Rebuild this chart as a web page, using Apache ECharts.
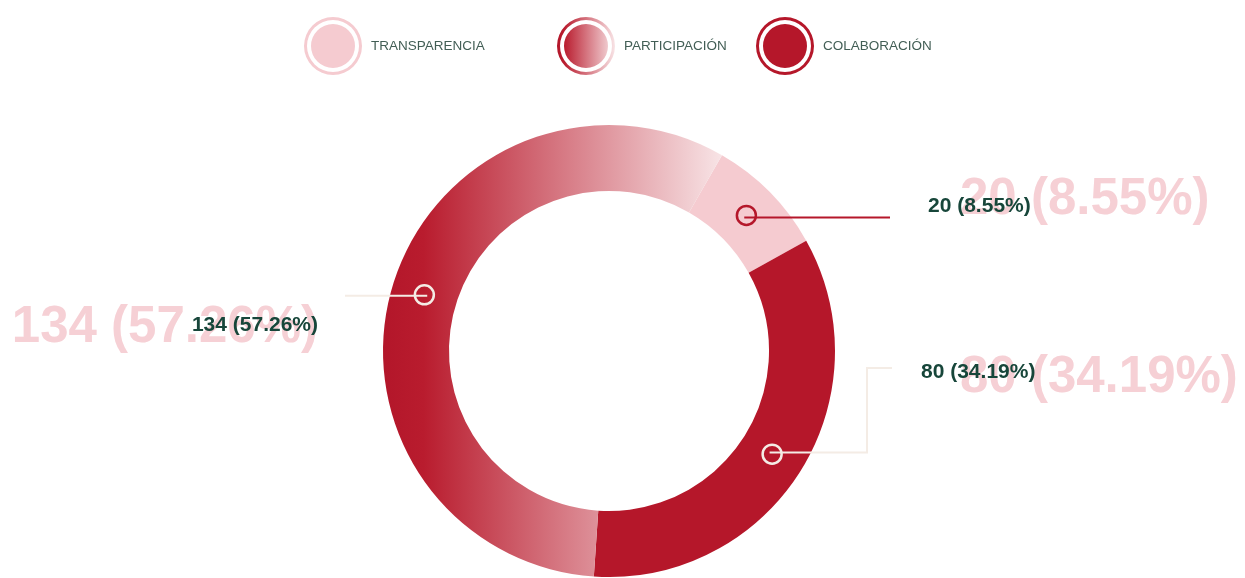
<!DOCTYPE html>
<html>
<head>
<meta charset="utf-8">
<script src="https://cdn.jsdelivr.net/npm/echarts@6/dist/echarts.min.js"></script>
<style>
  html, body { margin: 0; padding: 0; background: #fff; }
  #chart { width: 1245px; height: 578px; }
</style>
</head>
<body>
<div id="chart"></div>
<script>
// Data, in clockwise drawing order starting at the top right
const categories = ['TRANSPARENCIA', 'COLABORACIÓN', 'PARTICIPACIÓN'];
const values = [20, 80, 134];
const legendNames = ['TRANSPARENCIA', 'PARTICIPACIÓN', 'COLABORACIÓN'];

// Colours
const red = '#b5172a';
const pink = '#f5cbd0';
const cream = '#f4ece5';
const gradient = new echarts.graphic.LinearGradient(0, 0, 1, 0, [
  { offset: 0, color: '#b3162a' },
  { offset: 0.12, color: '#b91c2e' },
  { offset: 1, color: '#f8e4e6' }
]);
const sliceColors = [pink, red, gradient];
const lineColors = [red, cream, cream];
const markerStyle = ['red', 'light', 'light'];

// Text anchors for the labels: [x, y, align]
const smallTextAt = [[928, 206, 'left'], [921, 372, 'left'], [318, 325, 'right']];
const bigTextAt = [[960, 200, 'left'], [960, 378, 'left'], [318, 328, 'right']];

const center = [609, 351];
const font = '"Liberation Sans", Arial, sans-serif';

function pieData(extra) {
  return categories.map((name, i) => Object.assign({ name: name, value: values[i] }, extra ? extra(i) : {}));
}

// The ring icon used in the legend: outer ring plus inner disc
const ringIcon = 'path://M29,0A29,29,0,1,1,29,58A29,29,0,1,1,29,0Z' +
  'M29,3A26,26,0,1,0,29,55A26,26,0,1,0,29,3Z' +
  'M29,7A22,22,0,1,1,29,51A22,22,0,1,1,29,7Z';

function makeLegend(name, left) {
  const i = categories.indexOf(name);
  return {
    data: [{ name: name, icon: ringIcon, itemStyle: { color: sliceColors[i], borderWidth: 0 } }],
    left: left,
    top: 12,
    orient: 'horizontal',
    itemWidth: 66,
    itemHeight: 58,
    selectedMode: false,
    textStyle: { fontFamily: font, fontSize: 13.5, color: '#425e55' }
  };
}

const chart = echarts.init(document.getElementById('chart'));

const option = {
  backgroundColor: '#fff',
  animation: false,
  legend: [
    makeLegend(legendNames[0], 299),
    makeLegend(legendNames[1], 552),
    makeLegend(legendNames[2], 751)
  ],
  series: [
    {
      // the ring itself
      name: 'ring',
      type: 'pie',
      center: center,
      radius: [160, 226],
      startAngle: 60,
      clockwise: true,
      silent: true,
      z: 2,
      label: { show: false },
      labelLine: { show: false },
      data: pieData(i => ({ itemStyle: { color: sliceColors[i], borderWidth: 0 } }))
    },
    {
      // small hollow circles on the ring
      name: 'markers',
      type: 'pie',
      center: center,
      radius: [182, 198],
      startAngle: 60,
      clockwise: true,
      silent: true,
      z: 4,
      itemStyle: { color: 'rgba(0,0,0,0)' },
      label: {
        show: true,
        position: 'inside',
        rich: {
          red: { width: 19, height: 19, borderRadius: 11, borderWidth: 2.5, borderColor: red },
          light: { width: 19, height: 19, borderRadius: 11, borderWidth: 2.5, borderColor: cream }
        }
      },
      labelLine: { show: false },
      data: pieData(i => ({ label: { formatter: '{' + markerStyle[i] + '|}' } }))
    },
    {
      // large faded labels in the background
      name: 'bigLabels',
      type: 'pie',
      center: center,
      radius: [0, 226],
      startAngle: 60,
      clockwise: true,
      silent: true,
      z: 1,
      avoidLabelOverlap: false,
      itemStyle: { color: 'rgba(0,0,0,0)' },
      label: {
        show: true,
        formatter: '{c} ({d}%)',
        fontFamily: font,
        fontWeight: 'bold',
        fontSize: 51,
        color: '#f6d0d5'
      },
      labelLine: { show: false },
      labelLayout: function (p) {
        const t = bigTextAt[p.dataIndex];
        return { x: t[0], y: t[1], align: t[2], verticalAlign: 'middle' };
      },
      data: pieData()
    },
    {
      // small value labels with leader lines
      name: 'smallLabels',
      type: 'pie',
      center: center,
      radius: [0, 190],
      startAngle: 60,
      clockwise: true,
      silent: true,
      z: 3,
      avoidLabelOverlap: false,
      itemStyle: { color: 'rgba(0,0,0,0)' },
      label: {
        show: true,
        formatter: '{c} ({d}%)',
        fontFamily: font,
        fontWeight: 'bold',
        fontSize: 21,
        color: '#17463a'
      },
      labelLine: { show: true, length: 0, length2: 60, lineStyle: { width: 2 } },
      labelLayout: function (p) {
        const t = smallTextAt[p.dataIndex];
        const res = { x: t[0], y: t[1], align: t[2], verticalAlign: 'middle' };
        const s = p.labelLinePoints && p.labelLinePoints[0];
        if (s) {
          if (p.dataIndex === 0) {
            res.labelLinePoints = [s, [t[0] - 38, s[1]]];
          } else if (p.dataIndex === 1) {
            const bx = t[0] - 54;
            res.labelLinePoints = [s, [bx, s[1]], [bx, t[1] - 4], [t[0] - 29, t[1] - 4]];
          } else {
            res.labelLinePoints = [s, [t[0] + 27, s[1]]];
          }
        }
        return res;
      },
      data: pieData(i => ({ labelLine: { lineStyle: { color: lineColors[i] } } }))
    }
  ]
};

chart.setOption(option);
</script>
</body>
</html>
